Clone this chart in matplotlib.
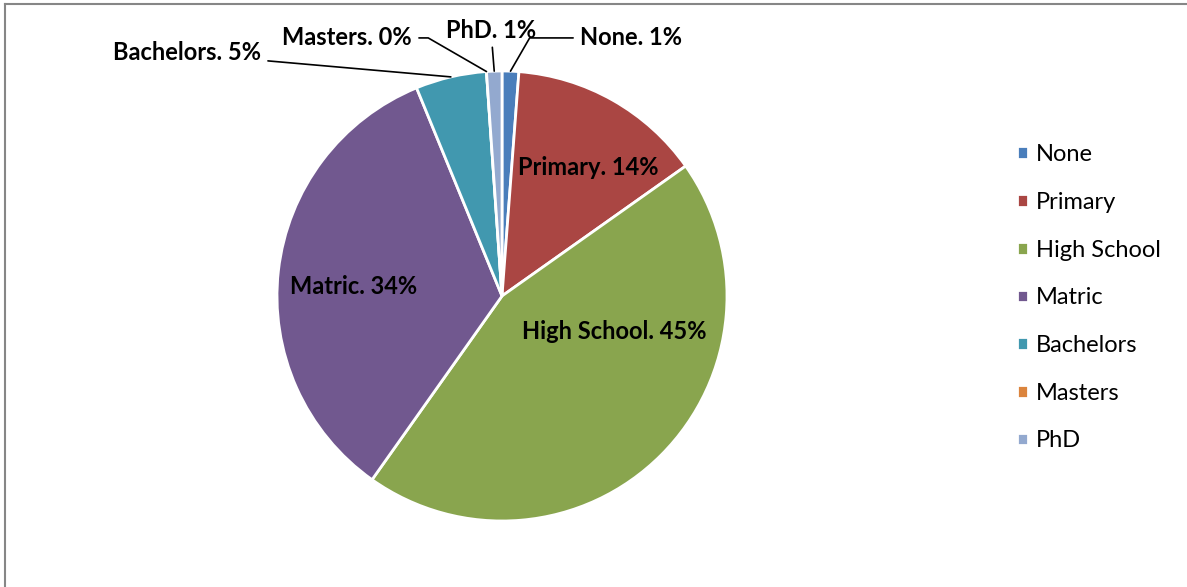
import matplotlib.pyplot as plt
from matplotlib.lines import Line2D
import numpy as np

categories = ['None', 'Primary', 'High School', 'Matric', 'Bachelors', 'Masters', 'PhD']
values = [1.2, 14.0, 44.6, 34.0, 5.1, 0.0, 1.1]
colors = ['#4A7EBB', '#AA4643', '#89A54E', '#71588F', '#4198AF', '#DB843D', '#93A9CF']

# label placement (data units, pie radius = 1)
inside = {'Primary': (0.385, 0.573), 'High School': (0.498, -0.156), 'Matric': (-0.658, 0.04)}
outside = {'None': (0.347, 1.147, 'left'), 'PhD': (-0.049, 1.13, 'center'),
           'Masters': (-0.40, 1.147, 'right'), 'Bachelors': (-1.071, 1.084, 'right')}

plt.rcParams['font.family'] = ['Lato', 'DejaVu Sans']

fig = plt.figure(figsize=(11.87, 5.87), dpi=100)
W, H = 1187, 587
cx, cy, r = 502, 296, 225
ax = fig.add_axes([(cx - r) / W, (H - cy - r) / H, 2 * r / W, 2 * r / H])

wedges, _ = ax.pie(values, colors=colors, startangle=90, counterclock=False,
                   wedgeprops=dict(edgecolor='white', linewidth=2))
ax.set_xlim(-1, 1)
ax.set_ylim(-1, 1)
ax.set_aspect('equal')

fs = 17
total = sum(values)
for w, name, v in zip(wedges, categories, values):
    text = f'{name}. {100 * v / total:.0f}%'
    if name in inside:
        x, y = inside[name]
        ax.text(x, y, text, ha='center', va='center', fontsize=fs, fontweight='bold')
    else:
        tx, ty, ha = outside[name]
        mid = np.deg2rad((w.theta1 + w.theta2) / 2)
        ex, ey = np.cos(mid), np.sin(mid)
        if ha == 'center':
            ax.annotate(text, xy=(ex, ey), xytext=(tx, ty), ha='center', va='bottom',
                        fontsize=fs, fontweight='bold', annotation_clip=False,
                        arrowprops=dict(arrowstyle='-', color='black', lw=1.2,
                                        shrinkA=2, shrinkB=0))
        else:
            ax.annotate(text, xy=(ex, ey), xytext=(tx, ty), ha=ha, va='center',
                        fontsize=fs, fontweight='bold', annotation_clip=False,
                        arrowprops=dict(arrowstyle='-', color='black', lw=1.2,
                                        shrinkA=3, shrinkB=0,
                                        connectionstyle='angle,angleA=0,angleB=%d' %
                                        (60 if ha == 'left' else (-30 if name == 'Masters' else -5))))

fig.legend(wedges, categories, loc='upper left', bbox_to_anchor=(996 / W, 1 - 123 / H),
           frameon=False, fontsize=fs, handlelength=0.45, handleheight=0.45,
           handletextpad=0.35, labelspacing=1.13)

# chart border (top and left)
fig.add_artist(Line2D([5 / W, 1], [1 - 4 / H, 1 - 4 / H], color='#868686', lw=1.5))
fig.add_artist(Line2D([5 / W, 5 / W], [0, 1 - 4 / H], color='#868686', lw=1.5))

fig.savefig('out.png', dpi=100)
